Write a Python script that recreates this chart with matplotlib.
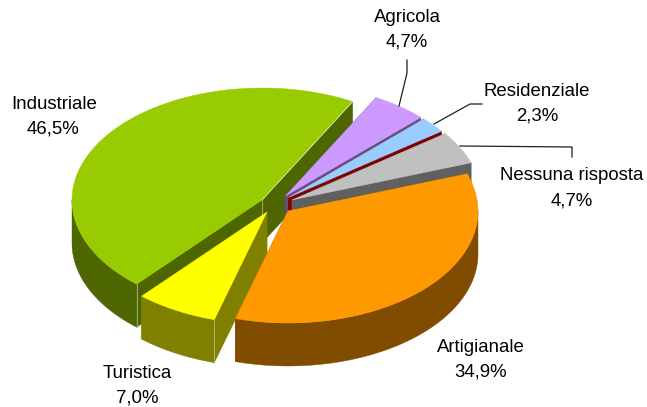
import numpy as np
import matplotlib
matplotlib.use("Agg")
import matplotlib.pyplot as plt
from matplotlib.patches import Polygon

plt.rcParams['font.family'] = ['Liberation Sans', 'DejaVu Sans']

# data, in drawing order clockwise from the start angle
categories = ["Industriale", "Agricola", "Residenziale", "Nessuna risposta", "Artigianale", "Turistica"]
values = [46.5, 4.7, 2.3, 4.7, 34.9, 7.0]

top_colors = ["#99CC00", "#CC99FF", "#99CCFF", "#C0C0C0", "#FF9900", "#FFFF00"]
wall_colors = ["#4D6600", "#664D80", "#800000", "#606060", "#804D00", "#808000"]
apex = [(262, 200), (285.5, 196), (288.5, 197.5), (292, 200), (288, 211), (267, 212)]
draw_order = [0, 1, 2, 3, 5, 4]

RX, RY = 190.0, 112.0
DEPTH = 43.0
START_TOP = 61.5

label_pos = {"Industriale": (54.5, 104.5, 53), "Agricola": (407, 17, 407), "Residenziale": (537, 91, 537),
             "Nessuna risposta": (572, 176, 572), "Artigianale": (481, 347, 481), "Turistica": (137, 373, 137)}
leaders = [[(399, 106), (407, 73), (407, 60)],
           [(434, 124), (470, 104), (482, 104)],
           [(460, 146), (572, 147), (572, 157)]]

fig = plt.figure(figsize=(6.47, 4.07), dpi=100)
ax = fig.add_axes([0, 0, 1, 1])
ax.set_xlim(0, 647)
ax.set_ylim(407, 0)
ax.axis("off")

fr = np.array(values) / sum(values) * 360.0
# Industriale runs counter-clockwise from START_TOP, the rest clockwise
ends = [(START_TOP, START_TOP + fr[0])]
cur = START_TOP
for f in fr[1:]:
    ends.append((cur - f, cur))
    cur -= f


def pt(th, ox, oy, dz=0.0):
    t = np.radians(th)
    return ox + RX * np.cos(t), oy - RY * np.sin(t) + dz


def add(poly, col, z):
    ax.add_patch(Polygon(poly, closed=True, facecolor=col, edgecolor=col, lw=0.3, zorder=z))


for rank, i in enumerate(draw_order):
    a0, a1 = ends[i]
    ox, oy = apex[i]
    z = rank * 10
    wall = wall_colors[i]
    # two cut faces
    for a in (a0, a1):
        p = pt(a, ox, oy)
        add([(ox, oy), p, (p[0], p[1] + DEPTH), (ox, oy + DEPTH)], wall, z)
    # outer rim (only the part facing the viewer)
    ranges = []
    for lo, hi in ((a0, a1), (a0 + 360, a1 + 360)):
        l, h = max(lo, 180), min(hi, 360)
        if l < h:
            ranges.append((l, h))
    for l, h in ranges:
        th = np.linspace(l, h, 80)
        upper = [pt(t, ox, oy) for t in th]
        lower = [pt(t, ox, oy, DEPTH) for t in th[::-1]]
        add(upper + lower, wall, z + 1)
    # top face
    th = np.linspace(a0, a1, 160)
    add([(ox, oy)] + [pt(t, ox, oy) for t in th], top_colors[i], z + 2)
    # pale seams on the two front pieces
    if categories[i] == "Industriale":
        p = pt(a0, ox, oy)
        ax.plot([ox, p[0]], [oy, p[1]], color="#DDE8A8", lw=0.6, zorder=z + 3)
        ax.plot([ox, ox], [oy, oy + DEPTH], color="#A8B080", lw=0.6, zorder=z + 1.5)
        p = pt(a1, ox, oy)
        ax.plot([p[0], p[0]], [p[1], p[1] + DEPTH], color="#A8B080", lw=0.6, zorder=z + 3)
    if categories[i] == "Turistica":
        p = pt(a1, ox, oy)
        ax.plot([p[0], p[0]], [p[1], p[1] + DEPTH], color="#B8B870", lw=0.6, zorder=z + 3)

for pts in leaders:
    xs, ys = zip(*pts)
    ax.plot(xs, ys, color="#202020", lw=0.9, zorder=100)

for name, v in zip(categories, values):
    x, y, x2 = label_pos[name]
    ax.text(x, y, name, ha="center", va="center", fontsize=13.4, color="black", zorder=110)
    ax.text(x2, y + 25, f"{v:.1f}%".replace(".", ","), ha="center", va="center",
            fontsize=13.4, color="black", zorder=110)

fig.savefig("out.png", dpi=100)
